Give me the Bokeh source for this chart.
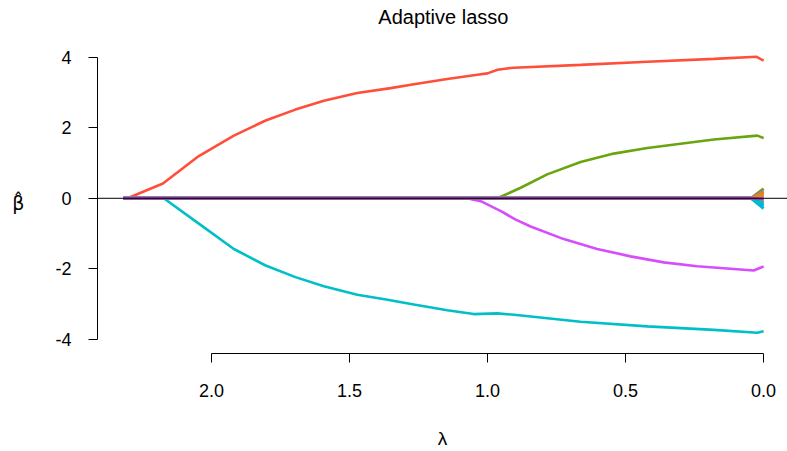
from bokeh.plotting import figure
from bokeh.models import Range1d, FixedTicker, PrintfTickFormatter, Span, Label
from bokeh.embed import file_html
from bokeh.resources import INLINE

# ---- data ----
red_lam = [2.32, 2.304, 2.176, 2.046, 1.919, 1.804, 1.696, 1.593, 1.472, 1.351, 1.267, 1.146,
           1.037, 1.0, 0.964, 0.93, 0.904, 0.663, 0.421, 0.180, 0.025, 0.0]
red_beta = [0, 0, 0.42, 1.20, 1.78, 2.21, 2.52, 2.77, 2.99, 3.13, 3.24, 3.39,
            3.51, 3.55, 3.65, 3.69, 3.71, 3.79, 3.88, 3.96, 4.02, 3.91]

cyan_lam = [2.32, 2.173, 2.046, 1.919, 1.804, 1.696, 1.593, 1.472, 1.373, 1.267, 1.146, 1.05,
            0.964, 0.904, 0.663, 0.421, 0.180, 0.023, 0.0]
cyan_beta = [0, 0, -0.72, -1.44, -1.91, -2.24, -2.50, -2.74, -2.87, -3.02, -3.18, -3.29,
             -3.27, -3.31, -3.51, -3.64, -3.74, -3.82, -3.78]

green_lam = [2.32, 0.97, 0.95, 0.88, 0.784, 0.663, 0.543, 0.421, 0.301, 0.180, 0.023, 0.0]
green_beta = [0, 0, 0.05, 0.30, 0.68, 1.03, 1.27, 1.43, 1.55, 1.67, 1.78, 1.71]

mag_lam = [2.32, 1.075, 1.025, 0.95, 0.9, 0.844, 0.724, 0.603, 0.482, 0.362, 0.241, 0.036, 0.0]
mag_beta = [0, 0, -0.08, -0.37, -0.60, -0.80, -1.16, -1.44, -1.65, -1.82, -1.93, -2.05, -1.94]

# small coefficients: zero along the path, fanning out at the very end
noise_lam = [2.32, 0.045, 0.0]
noise_end = [-0.29, 0.27, 0.12, 0.20, -0.22, 0.06, -0.12, 0.16, -0.06, -0.16, 0.09, -0.02]
noise_colors = ["#00BFC8", "#6AA50F", "#FF4F3A", "#D64DFB", "#00A9FF", "#FF61CC",
                "#00BE67", "#CD9600", "#8494FF", "#00C0B0", "#E7861B", "#9442C4"]

x_ticks = [2.0, 1.5, 1.0, 0.5, 0.0]
y_ticks = [-4, -2, 0, 2, 4]

FONT = "Liberation Sans"

p = figure(width=787, height=451,
           x_range=Range1d(2.413, -0.0865), y_range=Range1d(-4.41, 5.62),
           min_border_left=97, min_border_right=0, min_border_top=0, min_border_bottom=96,
           toolbar_location=None, output_backend="svg")
p.outline_line_color = None
p.grid.visible = False
p.background_fill_color = "white"
p.border_fill_color = "white"

LW = 2.6
p.line(red_lam, red_beta, line_color="#FF4F3A", line_width=LW)
p.line(green_lam, green_beta, line_color="#6AA50F", line_width=LW)
p.line(cyan_lam, cyan_beta, line_color="#00BFC8", line_width=LW)
p.line(mag_lam, mag_beta, line_color="#D64DFB", line_width=LW)
for v, c in zip(noise_end, noise_colors):
    p.line(noise_lam, [0, 0, v], line_color=c, line_width=3)

p.add_layout(Span(location=0, dimension="width", line_color="black", line_width=1))

# title (inside the top of the frame, above the data)
p.add_layout(Label(x=1.16, y=5.14, text="Adaptive lasso", text_font=FONT,
                   text_font_size="20px", text_align="center", text_baseline="middle",
                   text_color="black"))

# axes
xa = p.xaxis[0]
xa.ticker = FixedTicker(ticks=x_ticks)
xa.formatter = PrintfTickFormatter(format="%.1f")
xa.bounds = (0.0, 2.0)
ya = p.yaxis[0]
ya.ticker = FixedTicker(ticks=y_ticks)
ya.formatter = PrintfTickFormatter(format="%d")
ya.bounds = (-4, 4)
for ax in (xa, ya):
    ax.minor_tick_line_color = None
    ax.major_tick_out = 9
    ax.major_tick_in = 0
    ax.axis_line_color = "black"
    ax.major_tick_line_color = "black"
    ax.major_label_text_font = FONT
    ax.major_label_text_font_size = "18px"
    ax.major_label_text_color = "black"
    ax.axis_label_text_font = FONT
    ax.axis_label_text_font_size = "19px"
    ax.axis_label_text_font_style = "normal"
    ax.axis_label_text_color = "black"
xa.major_label_standoff = 21
ya.major_label_standoff = 17
ya.major_label_orientation = "horizontal"

xa.axis_label = "λ"
xa.axis_label_standoff = 28
# empty lines above shift the symbol down to the level of zero
ya.axis_label = " \n \nβ̂"
ya.axis_label_text_font = "DejaVu Sans"
ya.axis_label_orientation = "horizontal"
ya.axis_label_standoff = 28

open("out.html", "w").write(file_html(p, INLINE))
